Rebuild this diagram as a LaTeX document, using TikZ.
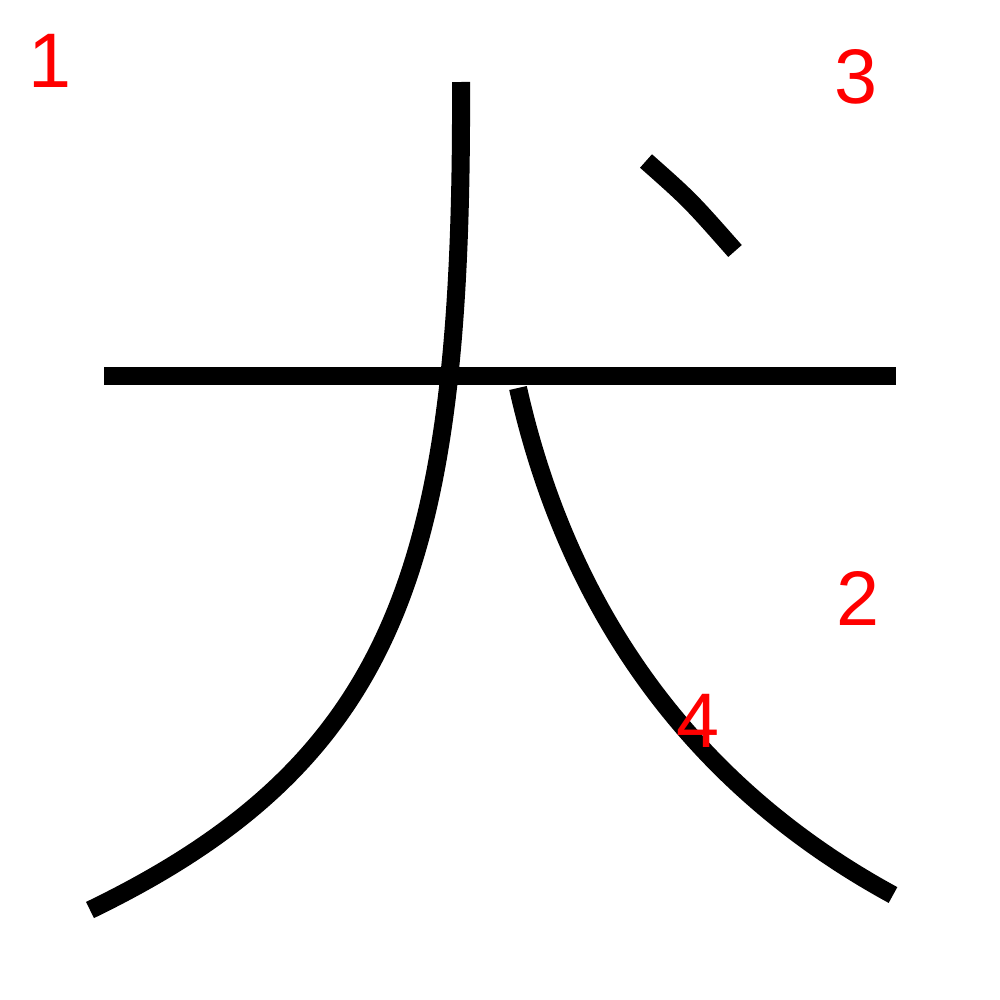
\documentclass[tikz,border=0pt]{standalone}
\usepackage{fontspec}
\setmainfont{Liberation Sans}
\begin{document}
\begin{tikzpicture}[x=0.01cm,y=-0.01cm,
  strokeline/.style={line width=0.18cm,line cap=butt,draw=black},
  num/.style={text=red,font=\fontsize{22}{22}\selectfont,inner sep=0pt}]
\useasboundingbox (0,0) rectangle (1000,1000);
\coordinate (h1) at (104,376); \coordinate (h2) at (896,376);
\coordinate (v1) at (461,82); \coordinate (v2) at (90,910);
\coordinate (r1) at (518,388); \coordinate (r2) at (893,895);
\coordinate (d1) at (646,161); \coordinate (d2) at (735,251);
\draw[strokeline] (h1) -- (h2);
\draw[strokeline] (v1) .. controls (463,560) and (400,760) .. (v2);
\draw[strokeline] (r1) .. controls (570,620) and (700,790) .. (r2);
\draw[strokeline] (d1) .. controls (690,200) .. (d2);
\node[num] (n1) at (50,61) {1};
\node[num] (n3) at (856,77) {3};
\node[num] (n2) at (858,598) {2};
\node[num] (n4) at (698,721) {4};
\end{tikzpicture}
\end{document}
